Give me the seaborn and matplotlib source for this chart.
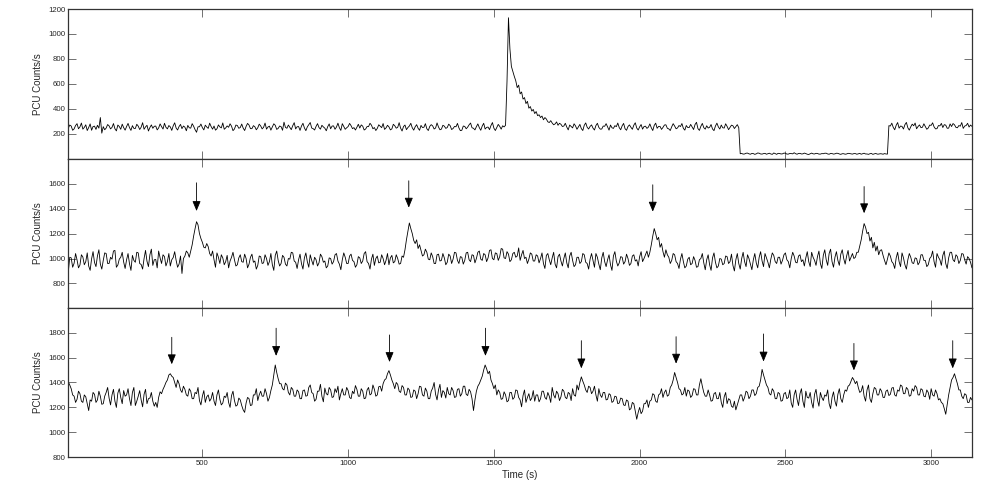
import numpy as np
import matplotlib
matplotlib.use("Agg")
import matplotlib.pyplot as plt
import seaborn as sns

# Light curves, 5 s bins starting at t = 40 s
rate_a = [
    244, 270, 262, 228, 239, 266, 281, 240, 255, 286, 237, 251, 272, 226, 250, 279, 228, 258, 261, 235,
    268, 245, 330, 205, 257, 232, 246, 274, 263, 239, 251, 282, 240, 223, 270, 258, 236, 277, 249, 229,
    258, 283, 249, 227, 265, 243, 242, 276, 261, 234, 253, 289, 236, 255, 268, 222, 250, 271, 244, 260,
    262, 231, 247, 279, 257, 238, 284, 252, 239, 266, 255, 227, 264, 288, 246, 230, 258, 275, 241, 262,
    253, 224, 267, 248, 245, 281, 260, 233, 212, 256, 256, 278, 249, 231, 269, 254, 243, 285, 258, 237,
    262, 229, 240, 271, 255, 247, 287, 236, 247, 263, 252, 280, 261, 225, 238, 270, 266, 244, 250, 278,
    245, 226, 259, 283, 270, 241, 241, 265, 256, 232, 248, 277, 263, 239, 252, 286, 237, 254, 261, 229,
    254, 280, 268, 235, 243, 262, 257, 228, 293, 251, 244, 270, 251, 233, 265, 289, 239, 256, 258, 227,
    262, 284, 247, 225, 255, 272, 290, 246, 241, 230, 259, 281, 250, 237, 268, 255, 245, 224, 257, 279,
    240, 262, 263, 236, 254, 285, 248, 227, 281, 259, 236, 248, 258, 283, 265, 241, 249, 230, 252, 276,
    246, 271, 261, 230, 238, 258, 257, 284, 269, 240, 250, 226, 243, 272, 260, 249, 282, 235, 247, 268,
    255, 231, 239, 276, 264, 245, 251, 289, 245, 222, 258, 270, 233, 250, 262, 284, 248, 229, 256, 273,
    244, 228, 267, 250, 252, 281, 240, 226, 259, 273, 263, 238, 246, 287, 254, 232, 237, 268, 261, 243,
    250, 277, 265, 234, 242, 259, 256, 283, 247, 225, 228, 262, 259, 240, 253, 272, 286, 248, 244, 231,
    257, 279, 249, 228, 262, 284, 238, 251, 254, 233, 266, 290, 245, 226, 251, 275, 259, 237, 264, 255,
    268, 620, 1130, 880, 740, 700, 660, 625, 570, 590, 520, 535, 478, 490, 442, 460, 405, 418, 382, 395,
    362, 378, 345, 352, 330, 342, 312, 330, 318, 296, 290, 305, 286, 272, 279, 295, 268, 284, 276, 258,
    262, 284, 254, 231, 270, 258, 247, 280, 263, 236, 256, 275, 241, 226, 268, 287, 252, 238, 259, 271,
    245, 230, 266, 284, 251, 237, 238, 262, 260, 281, 255, 229, 270, 248, 243, 265, 257, 286, 249, 232,
    264, 283, 240, 228, 258, 271, 252, 236, 269, 288, 246, 230, 255, 274, 237, 258, 261, 243, 253, 279,
    248, 226, 267, 285, 244, 259, 259, 235, 251, 270, 272, 244, 239, 226, 256, 281, 262, 240, 247, 266,
    258, 282, 243, 229, 266, 250, 250, 275, 255, 234, 274, 292, 241, 227, 260, 283, 249, 237, 264, 246,
    252, 274, 238, 225, 262, 285, 255, 238, 270, 248, 246, 280, 259, 233, 251, 269, 264, 242, 257, 273,
    249, 40, 42, 37, 38, 44, 45, 39, 36, 42, 41, 35, 39, 46, 44, 38, 37, 41, 43, 36,
    40, 44, 38, 35, 46, 41, 35, 43, 42, 38, 39, 45, 44, 37, 37, 42, 41, 39, 48, 40,
    36, 42, 43, 38, 39, 45, 41, 36, 34, 40, 45, 39, 38, 43, 42, 37, 37, 41, 40, 44,
    44, 38, 36, 42, 41, 37, 39, 44, 43, 38, 35, 40, 40, 36, 38, 43, 42, 39, 37, 41,
    41, 36, 39, 43, 36, 40, 44, 38, 38, 35, 40, 42, 35, 39, 42, 37, 37, 40, 39, 36,
    41, 38, 37, 265, 262, 285, 251, 232, 268, 290, 245, 262, 259, 238, 273, 291, 248, 229, 256, 277,
    264, 286, 240, 258, 271, 249, 252, 280, 258, 236, 246, 270, 267, 288, 255, 239, 241, 266, 263, 283,
    250, 273, 269, 244, 245, 279, 258, 282, 272, 251, 248, 266, 261, 290, 243, 262, 266, 284, 254, 270,
    259,
]

rate_b = [
    890, 1010, 1005, 930, 962, 1040, 990, 925, 948, 1030, 1012, 950, 975, 1045, 940, 905, 998, 1055, 968, 935,
    1020, 1070, 955, 915, 985, 1045, 1040, 960, 960, 1010, 995, 1060, 1065, 930, 948, 995, 1010, 1050, 972, 920,
    990, 1040, 958, 905, 1025, 985, 970, 1050, 1045, 960, 952, 915, 1000, 1065, 978, 935, 1030, 1075, 945, 990,
    992, 925, 1060, 1005, 960, 1030, 1015, 940, 975, 1040, 940, 990, 1008, 1055, 985, 930, 955, 1020, 880, 1000,
    1020, 1060, 1045, 1010, 1060, 1110, 1180, 1240, 1295, 1270, 1200, 1160, 1130, 1090, 1085, 1120, 1095, 1040, 1020, 1060,
    990, 930, 1045, 1010, 960, 1030, 1005, 950, 975, 1025, 925, 980, 1010, 1050, 990, 940, 950, 1005, 1030, 975,
    970, 1035, 1000, 925, 955, 1010, 1035, 970, 980, 915, 945, 1020, 1015, 960, 965, 1030, 1000, 945, 975, 1040,
    950, 905, 1025, 1060, 985, 940, 960, 1025, 1010, 955, 940, 1000, 995, 1050, 1045, 980, 970, 920, 990, 1035,
    958, 915, 1005, 1045, 975, 930, 1030, 985, 948, 1010, 990, 940, 965, 1035, 1015, 970, 980, 925, 940, 1005,
    1000, 955, 975, 1030, 1040, 980, 955, 910, 990, 1045, 1010, 960, 960, 1020, 1035, 985, 975, 930, 950, 1015,
    1005, 960, 980, 1040, 1055, 975, 960, 915, 995, 1035, 945, 1000, 1020, 965, 970, 1030, 1000, 950, 985, 1040,
    950, 1005, 1025, 965, 975, 1030, 1000, 955, 960, 1020, 1010, 1070, 1150, 1220, 1285, 1240, 1200, 1145, 1120, 1150,
    1080, 1110, 1065, 1020, 1030, 1075, 1050, 995, 990, 1045, 1015, 960, 960, 1030, 1035, 980, 985, 1040, 1005, 950,
    970, 1035, 1020, 960, 995, 1050, 1045, 985, 960, 1015, 1010, 955, 985, 1045, 1050, 990, 975, 1030, 1025, 965,
    1000, 1050, 1060, 995, 985, 1040, 1030, 975, 1005, 1065, 1070, 1000, 990, 1045, 1040, 985, 1015, 1080, 1075, 1005,
    1000, 1055, 1035, 975, 990, 1040, 1050, 1010, 1020, 1085, 985, 1030, 1065, 1000, 1010, 960, 995, 1045, 1035, 980,
    980, 1030, 1020, 965, 1000, 1045, 960, 920, 1025, 1040, 990, 950, 1005, 1050, 955, 925, 1015, 1035, 980, 940,
    1000, 1045, 965, 925, 1020, 1050, 985, 935, 950, 1010, 1010, 960, 975, 1040, 1030, 970, 960, 915, 995, 1040,
    985, 930, 1040, 1010, 955, 910, 1005, 1050, 975, 935, 990, 1030, 950, 905, 1020, 1055, 980, 940, 965, 1015,
    1010, 955, 975, 1035, 1000, 945, 960, 1020, 1030, 980, 990, 940, 1015, 1055, 975, 1000, 1030, 1060, 1010, 1050,
    1110, 1180, 1240, 1200, 1150, 1170, 1090, 1120, 1055, 1010, 1070, 1030, 1010, 960, 985, 1040, 1030, 975, 960, 920,
    995, 1040, 975, 925, 940, 995, 1010, 950, 960, 1015, 985, 930, 935, 990, 1000, 1040, 965, 910, 990, 1030,
    950, 905, 1005, 1045, 970, 925, 940, 1000, 995, 950, 960, 1020, 1015, 960, 975, 1035, 945, 900, 990, 1040,
    960, 915, 1000, 1050, 975, 935, 1030, 1000, 955, 910, 990, 1040, 965, 925, 1010, 1055, 980, 935, 1040, 1005,
    970, 925, 995, 1045, 1025, 975, 960, 1010, 1010, 955, 985, 1030, 1045, 990, 975, 925, 1000, 1050, 1020, 970,
    965, 1020, 1030, 975, 990, 940, 1005, 1055, 975, 935, 1050, 1010, 985, 945, 1015, 1060, 960, 920, 1025, 1070,
    990, 945, 1040, 1075, 975, 930, 1010, 1055, 985, 945, 1035, 1070, 1000, 955, 1020, 1065, 980, 1010, 1040, 1000,
    1010, 1050, 1050, 1100, 1150, 1220, 1280, 1250, 1200, 1210, 1140, 1170, 1085, 1130, 1060, 1100, 1030, 1065, 1070, 1025,
    985, 950, 995, 1045, 1020, 975, 960, 920, 1005, 1050, 975, 935, 1045, 1005, 950, 915, 990, 1040, 1010, 965,
    960, 1005, 1000, 950, 970, 1030, 1030, 985, 985, 935, 950, 1000, 1015, 1060, 975, 930, 1040, 1010, 990, 945,
    1025, 1060, 960, 920, 1005, 1050, 1050, 990, 975, 1030, 1015, 960, 985, 1040, 1035, 990, 955, 1015, 1000, 970,
    925,
]

rate_c = [
    1405, 1380, 1350, 1300, 1290, 1240, 1265, 1330, 1310, 1250, 1240, 1300, 1285, 1230, 1175, 1260, 1250, 1320, 1305, 1240,
    1260, 1330, 1290, 1225, 1230, 1290, 1320, 1360, 1275, 1220, 1300, 1345, 1250, 1200, 1315, 1350, 1280, 1230, 1335, 1290,
    1300, 1350, 1270, 1215, 1320, 1360, 1215, 1250, 1290, 1335, 1260, 1205, 1305, 1345, 1230, 1270, 1275, 1320, 1250, 1210,
    1240, 1200, 1280, 1325, 1310, 1345, 1370, 1400, 1420, 1460, 1470, 1450, 1440, 1400, 1360, 1420, 1390, 1340, 1320, 1370,
    1345, 1300, 1290, 1350, 1330, 1270, 1270, 1320, 1310, 1360, 1255, 1220, 1290, 1335, 1240, 1285, 1300, 1250, 1270, 1320,
    1250, 1215, 1300, 1340, 1265, 1220, 1235, 1290, 1280, 1320, 1240, 1200, 1295, 1330, 1255, 1210, 1220, 1275, 1260, 1215,
    1180, 1160, 1235, 1280, 1270, 1215, 1220, 1300, 1300, 1350, 1255, 1300, 1330, 1290, 1290, 1350, 1310, 1250, 1280, 1335,
    1380, 1460, 1540, 1480, 1430, 1390, 1390, 1350, 1340, 1395, 1380, 1320, 1300, 1360, 1345, 1290, 1290, 1340, 1325, 1270,
    1270, 1335, 1340, 1290, 1295, 1360, 1380, 1320, 1310, 1250, 1265, 1330, 1330, 1385, 1290, 1245, 1355, 1310, 1300, 1360,
    1340, 1280, 1285, 1350, 1320, 1370, 1260, 1310, 1350, 1300, 1300, 1360, 1335, 1280, 1270, 1330, 1310, 1375, 1345, 1290,
    1290, 1350, 1330, 1270, 1275, 1340, 1360, 1300, 1310, 1380, 1345, 1290, 1300, 1365, 1370, 1330, 1390, 1420, 1430, 1470,
    1495, 1460, 1420, 1390, 1350, 1400, 1385, 1330, 1320, 1375, 1360, 1300, 1300, 1355, 1340, 1280, 1285, 1340, 1330, 1270,
    1310, 1370, 1365, 1300, 1290, 1355, 1330, 1270, 1270, 1330, 1355, 1400, 1305, 1260, 1340, 1385, 1280, 1335, 1320, 1275,
    1360, 1310, 1300, 1360, 1335, 1280, 1285, 1345, 1350, 1290, 1310, 1370, 1370, 1305, 1295, 1345, 1325, 1270, 1175, 1260,
    1330, 1370, 1390, 1420, 1450, 1500, 1540, 1510, 1470, 1490, 1420, 1390, 1350, 1380, 1300, 1340, 1320, 1265, 1270, 1325,
    1300, 1245, 1255, 1320, 1320, 1265, 1280, 1340, 1335, 1280, 1260, 1205, 1295, 1340, 1240, 1280, 1310, 1255, 1275, 1335,
    1250, 1300, 1300, 1245, 1270, 1330, 1330, 1280, 1265, 1320, 1290, 1240, 1360, 1300, 1275, 1330, 1310, 1255, 1285, 1345,
    1330, 1280, 1270, 1320, 1310, 1255, 1350, 1300, 1290, 1380, 1340, 1400, 1445, 1410, 1380, 1340, 1320, 1370, 1360, 1310,
    1330, 1370, 1300, 1250, 1350, 1300, 1280, 1320, 1320, 1260, 1265, 1310, 1300, 1240, 1250, 1290, 1285, 1230, 1235, 1275,
    1270, 1220, 1215, 1260, 1250, 1180, 1190, 1240, 1230, 1170, 1105, 1160, 1200, 1150, 1170, 1230, 1230, 1260, 1200, 1250,
    1260, 1310, 1300, 1250, 1240, 1300, 1310, 1350, 1280, 1320, 1340, 1290, 1300, 1360, 1380, 1420, 1480, 1440, 1400, 1350,
    1340, 1300, 1310, 1360, 1290, 1340, 1330, 1280, 1295, 1350, 1345, 1300, 1300, 1380, 1430, 1370, 1320, 1290, 1290, 1340,
    1300, 1250, 1255, 1310, 1320, 1270, 1270, 1320, 1240, 1200, 1285, 1320, 1230, 1270, 1260, 1210, 1200, 1250, 1180, 1220,
    1260, 1300, 1300, 1250, 1280, 1330, 1320, 1270, 1290, 1340, 1340, 1295, 1310, 1360, 1370, 1420, 1505, 1460, 1420, 1380,
    1360, 1310, 1300, 1350, 1330, 1270, 1270, 1320, 1310, 1250, 1255, 1310, 1320, 1270, 1280, 1340, 1235, 1200, 1300, 1340,
    1265, 1215, 1310, 1350, 1250, 1200, 1330, 1280, 1275, 1320, 1240, 1195, 1305, 1345, 1260, 1210, 1320, 1280, 1255, 1300,
    1290, 1340, 1230, 1190, 1280, 1325, 1250, 1210, 1305, 1350, 1270, 1240, 1300, 1340, 1330, 1370, 1380, 1410, 1440, 1420,
    1390, 1410, 1360, 1320, 1330, 1375, 1290, 1250, 1340, 1380, 1270, 1240, 1310, 1360, 1350, 1300, 1300, 1350, 1330, 1280,
    1280, 1330, 1340, 1295, 1305, 1355, 1360, 1300, 1290, 1340, 1330, 1380, 1370, 1310, 1310, 1360, 1345, 1290, 1295, 1350,
    1330, 1375, 1360, 1300, 1300, 1350, 1340, 1290, 1285, 1340, 1320, 1265, 1350, 1300, 1290, 1340, 1310, 1260, 1270, 1240,
    1230, 1190, 1145, 1220, 1300, 1360, 1420, 1440, 1470, 1430, 1390, 1340, 1340, 1290, 1270, 1310, 1300, 1240, 1240, 1280,
    1260,
]

assert len(rate_a) == len(rate_b) == len(rate_c) == 621
time = 40 + 5 * np.arange(len(rate_a))

# Arrow markers: time, tail value, head value
arrows_b_time = [480, 1208, 2045, 2770]
arrows_b_top = [1607, 1623, 1591, 1577]
arrows_b_tip = [1381, 1408, 1376, 1363]

arrows_c_time = [395, 753, 1142, 1471, 1800, 2125, 2425, 2735, 3074]
arrows_c_top = [1762, 1835, 1781, 1835, 1735, 1767, 1789, 1713, 1735]
arrows_c_tip = [1546, 1613, 1564, 1613, 1513, 1551, 1568, 1497, 1513]

x_ticks = [500, 1000, 1500, 2000, 2500, 3000]

sns.set_style("ticks")
plt.rcParams["font.family"] = ["Liberation Sans", "DejaVu Sans"]

fig = plt.figure(figsize=(9.81, 4.98), dpi=100)

panels = [
    dict(y=rate_a, ylim=(0, 1200), yticks=[200, 400, 600, 800, 1000, 1200], bottom=0.6813),
    dict(y=rate_b, ylim=(600, 1800), yticks=[800, 1000, 1200, 1400, 1600], bottom=0.3807),
    dict(y=rate_c, ylim=(800, 2000), yticks=[800, 1000, 1200, 1400, 1600, 1800], bottom=0.0817),
]

axes = []
for p in panels:
    ax = fig.add_axes([0.0696, p["bottom"], 0.9212, 0.3006])
    sns.lineplot(x=time, y=p["y"], ax=ax, color="black", linewidth=0.6)
    ax.set_xlim(40, 3140)
    ax.set_ylim(*p["ylim"])
    ax.set_yticks(p["yticks"])
    ax.set_xticks(x_ticks)
    ax.set_ylabel("PCU Counts/s", fontsize=7, labelpad=4)
    ax.set_xlabel("")
    ax.tick_params(direction="in", length=6, width=0.6, color="0.35",
                   top=True, right=True, labelsize=5.6, pad=2)
    for s in ax.spines.values():
        s.set_linewidth(0.9)
        s.set_color("0.2")
    axes.append(ax)

axes[0].tick_params(labelbottom=False)
axes[1].tick_params(labelbottom=False)
axes[2].set_xlabel("Time (s)", fontsize=7, labelpad=2)

arrow_style = dict(arrowstyle="-|>,head_length=0.6,head_width=0.25",
                   color="black", lw=0.6, shrinkA=0, shrinkB=0)
for t, top, tip in zip(arrows_b_time, arrows_b_top, arrows_b_tip):
    axes[1].annotate("", xy=(t, tip), xytext=(t, top), arrowprops=arrow_style)
for t, top, tip in zip(arrows_c_time, arrows_c_top, arrows_c_tip):
    axes[2].annotate("", xy=(t, tip), xytext=(t, top), arrowprops=arrow_style)

plt.savefig("out.png", dpi=100)
